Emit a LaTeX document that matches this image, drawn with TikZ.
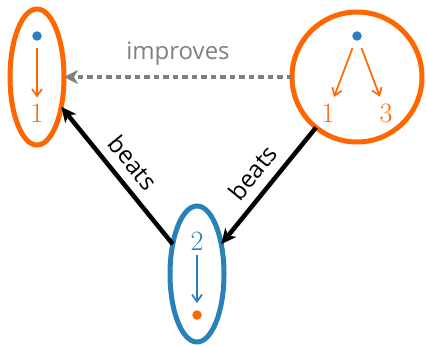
\documentclass[tikz,border=0pt]{standalone}
\usepackage{fontspec}
\newfontfamily\labelfont{Open Sans}
\usetikzlibrary{shapes.geometric,arrows.meta}
\definecolor{orng}{RGB}{255,102,0}
\definecolor{blu}{RGB}{42,128,185}
\definecolor{gry}{RGB}{128,128,128}
\begin{document}
\begin{tikzpicture}[x=1pt,y=-1pt,
  group/.style={draw,line width=5pt,inner sep=0pt,outer sep=0pt},
  oval/.style={group,ellipse,minimum width=54pt,minimum height=136pt},
  ring/.style={group,circle,minimum size=130pt},
  dot/.style={circle,fill,inner sep=0pt,minimum size=9.5pt},
  num/.style={inner sep=0pt,font=\fontsize{28}{28}\selectfont},
  inner/.style={line width=1.7pt,-{Straight Barb[length=7pt,width=10pt]}},
  beat/.style={line width=4.5pt,black,-{Stealth[length=15pt,width=14pt,inset=4pt]}},
  word/.style={font=\labelfont\fontsize{24}{24}\selectfont}]
\useasboundingbox (0,0) rectangle (427,345);

% left group: single edge
\node[oval,orng] (L) at (37,77) {};
\node[dot,blu] (Ld) at (37,36) {};
\node[num,orng] (L1) at (37,113) {1};
\draw[inner,orng,shorten <=7pt,shorten >=6pt] (Ld) -- (L1);

% right group: two edges
\node[ring,orng] (R) at (357,77) {};
\node[dot,blu] (Rd) at (357,36) {};
\node[num,orng] (R1) at (328,113) {1};
\node[num,orng] (R3) at (386,113) {3};
\draw[inner,orng,shorten <=8pt,shorten >=7pt] (Rd) -- (R1);
\draw[inner,orng,shorten <=8pt,shorten >=7pt] (Rd) -- (R3);

% bottom group
\node[oval,blu] (B) at (197,274) {};
\node[num,blu] (B2) at (197,241) {2};
\node[dot,orng] (Bd) at (197,315) {};
\draw[inner,blu,shorten <=5pt,shorten >=7pt] (B2) -- (Bd);

% relations between groups
\draw[line width=4.5pt,gry,dash pattern=on 5.5pt off 4pt,
      -{Stealth[length=14pt,width=14pt,inset=4pt]}]
  (R.west) -- node[word,above=6pt,gry] {improves} (L.east);
\draw[beat] (B) -- node[word,sloped,above=6pt] {beats} (L);
\draw[beat] (R) -- node[word,sloped,above=6pt] {beats} (B);
\end{tikzpicture}
\end{document}
